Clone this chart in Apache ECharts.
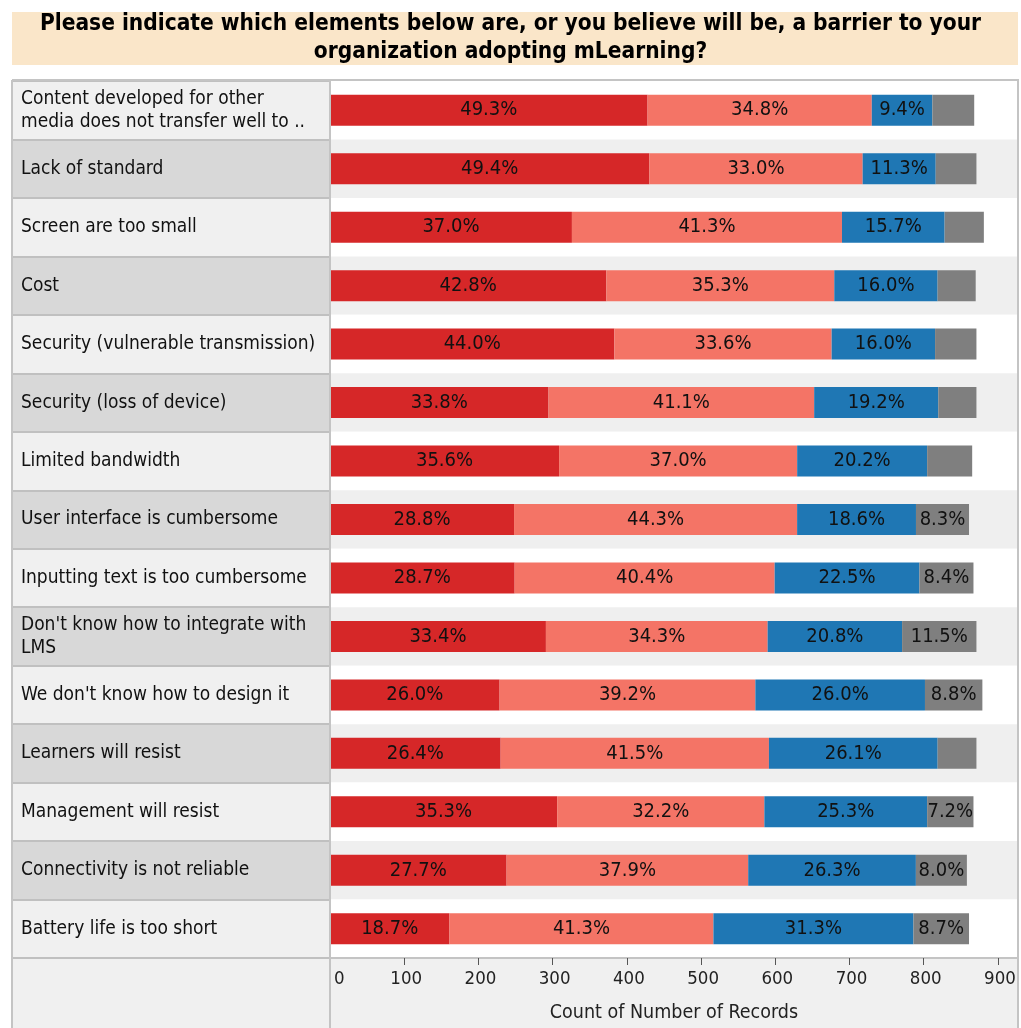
<!DOCTYPE html>
<html>
<head>
<meta charset="utf-8">
<title>Barriers to adopting mLearning</title>
<script src="https://cdn.jsdelivr.net/npm/echarts@6/dist/echarts.min.js"></script>
<style>
  html, body { margin: 0; padding: 0; background: #ffffff; }
  #chart { width: 1021px; height: 1028px; }
</style>
</head>
<body>
<div id="chart"></div>
<script>
// Survey question shown in the header band
const titleText = 'Please indicate which elements below are, or you believe will be, a barrier to your\norganization adopting mLearning?';

// Barrier categories, top to bottom
const categories = [
  'Content developed for other\nmedia does not transfer well to ..',
  'Lack of standard',
  'Screen are too small',
  'Cost',
  'Security (vulnerable transmission)',
  'Security (loss of device)',
  'Limited bandwidth',
  'User interface is cumbersome',
  'Inputting text is too cumbersome',
  "Don't know how to integrate with\nLMS",
  "We don't know how to design it",
  'Learners will resist',
  'Management will resist',
  'Connectivity is not reliable',
  'Battery life is too short'
];

// Number of records answering each item
const respondents = [868, 871, 881, 870, 871, 871, 867, 861, 867, 871, 879, 871, 867, 859, 861];

// Share of answers per response level (% of the item's records)
const pctLevel1 = [49.3, 49.4, 37.0, 42.8, 44.0, 33.8, 35.6, 28.8, 28.7, 33.4, 26.0, 26.4, 35.3, 27.7, 18.7];
const pctLevel2 = [34.8, 33.0, 41.3, 35.3, 33.6, 41.1, 37.0, 44.3, 40.4, 34.3, 39.2, 41.5, 32.2, 37.9, 41.3];
const pctLevel3 = [9.4, 11.3, 15.7, 16.0, 16.0, 19.2, 20.2, 18.6, 22.5, 20.8, 26.0, 26.1, 25.3, 26.3, 31.3];
const pctLevel4 = [6.5, 6.3, 6.0, 5.9, 6.4, 5.9, 7.0, 8.3, 8.4, 11.5, 8.8, 6.0, 7.2, 8.0, 8.7];

// Count axis ticks
const axisTicks = [0, 100, 200, 300, 400, 500, 600, 700, 800, 900];
const axisMax = 927;

const FONT = "'DejaVu Sans Condensed', 'DejaVu Sans', sans-serif";
const colors = ['#d62728', '#f47466', '#1f77b4', '#7f7f7f'];
const levelNames = ['Level 1', 'Level 2', 'Level 3', 'Level 4'];
const levels = [pctLevel1, pctLevel2, pctLevel3, pctLevel4];

// Smallest share whose label still fits inside its segment
const minLabelPct = 7.1;

function makeSeries(pcts, idx) {
  return {
    name: levelNames[idx],
    type: 'bar',
    stack: 'records',
    xAxisIndex: 0,
    yAxisIndex: 0,
    barWidth: 31,
    itemStyle: { color: colors[idx] },
    label: {
      show: true,
      position: 'inside',
      color: '#111111',
      fontFamily: FONT,
      fontSize: 20,
      formatter: p => pcts[p.dataIndex].toFixed(1) + '%'
    },
    data: pcts.map((pct, i) => ({
      value: respondents[i] * pct / 100,
      label: { show: pct >= minLabelPct }
    })),
    z: 3
  };
}

const chart = echarts.init(document.getElementById('chart'), null, { renderer: 'canvas' });

const gridTop = 81;
const gridHeight = 877;

chart.setOption({
  animation: false,
  backgroundColor: '#ffffff',
  title: {
    text: titleText,
    left: 'center',
    top: 5,
    textStyle: {
      fontFamily: FONT,
      fontWeight: 'bold',
      fontSize: 22.5,
      lineHeight: 28,
      color: '#000000',
      align: 'center'
    }
  },
  graphic: [
    // header band
    { type: 'rect', z: -10, shape: { x: 12, y: 12, width: 1006, height: 53 }, style: { fill: '#fae6c9' } },
    // axis band under the table
    { type: 'rect', z: -10, shape: { x: 12, y: 958, width: 1006, height: 70 }, style: { fill: '#f0f0f0' } },
    // table frame
    { type: 'line', z: 10, shape: { x1: 12, y1: 80, x2: 1019, y2: 80 }, style: { stroke: '#c4c4c4', lineWidth: 2 } },
    { type: 'line', z: 10, shape: { x1: 12, y1: 80, x2: 12, y2: 1028 }, style: { stroke: '#c4c4c4', lineWidth: 2 } },
    { type: 'line', z: 10, shape: { x1: 1018, y1: 80, x2: 1018, y2: 1028 }, style: { stroke: '#c4c4c4', lineWidth: 2 } },
    { type: 'line', z: 10, shape: { x1: 330, y1: 80, x2: 330, y2: 1028 }, style: { stroke: '#c4c4c4', lineWidth: 2 } }
  ],
  grid: [
    { left: 330, width: 688, top: gridTop, height: gridHeight, containLabel: false },
    { left: 12, width: 318, top: gridTop, height: gridHeight, containLabel: false }
  ],
  xAxis: [
    {
      gridIndex: 0,
      type: 'value',
      min: 0,
      max: axisMax,
      name: 'Count of Number of Records',
      nameLocation: 'middle',
      nameGap: 45,
      nameTextStyle: { fontFamily: FONT, fontSize: 19.5, color: '#222222' },
      axisLine: { show: true, lineStyle: { color: '#c4c4c4', width: 2 } },
      axisTick: { show: true, length: 7, lineStyle: { color: '#555555' }, customValues: axisTicks },
      axisLabel: {
        customValues: axisTicks,
        fontFamily: FONT,
        fontSize: 18.5,
        color: '#222222',
        margin: 12,
        alignMinLabel: 'left',
        padding: [0, 0, 0, 4]
      },
      splitLine: { show: false }
    },
    {
      gridIndex: 1,
      type: 'value',
      min: 0,
      max: 1,
      show: false
    }
  ],
  yAxis: [
    {
      gridIndex: 0,
      type: 'category',
      data: categories,
      inverse: true,
      axisLine: { show: false },
      axisTick: { show: false },
      axisLabel: {
        interval: 0,
        align: 'left',
        margin: 309,
        fontFamily: FONT,
        fontSize: 19,
        lineHeight: 23,
        color: '#111111'
      },
      splitLine: { show: false },
      splitArea: { show: true, areaStyle: { color: ['#ffffff', '#efefef'] } }
    },
    {
      gridIndex: 1,
      type: 'category',
      data: categories,
      inverse: true,
      axisLine: { show: false },
      axisTick: { show: false },
      axisLabel: { show: false },
      splitLine: { show: true, lineStyle: { color: '#c0c0c0', width: 2 } },
      splitArea: { show: true, areaStyle: { color: ['#f0f0f0', '#d8d8d8'] } }
    }
  ],
  series: levels.map(makeSeries).concat([
    {
      type: 'bar',
      xAxisIndex: 1,
      yAxisIndex: 1,
      silent: true,
      data: [],
      itemStyle: { color: 'transparent' }
    }
  ])
});
</script>
</body>
</html>
